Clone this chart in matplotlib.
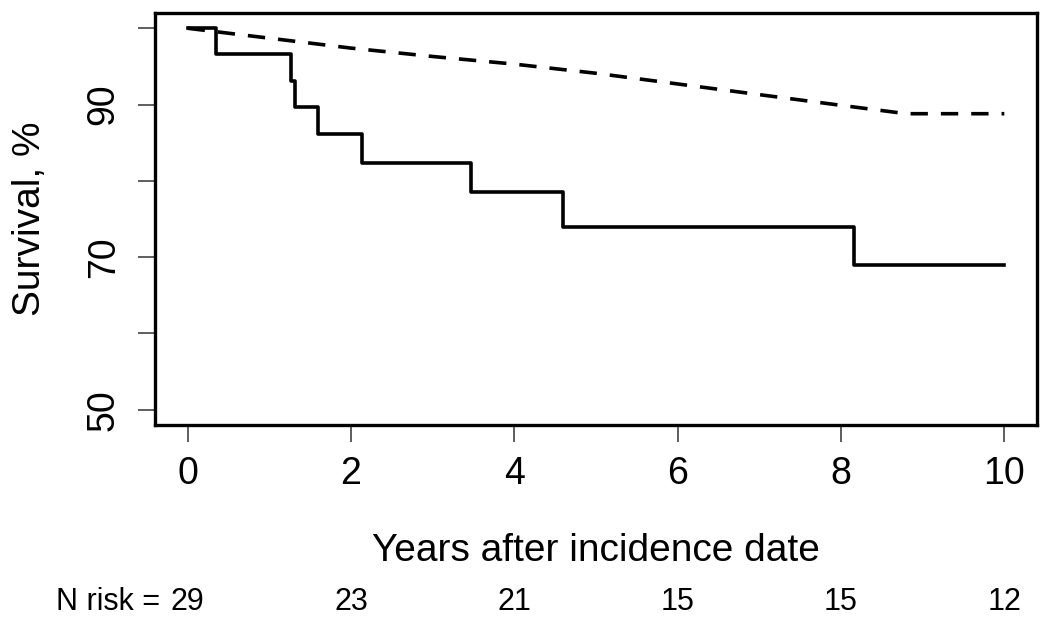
import matplotlib
matplotlib.use("Agg")
import matplotlib.pyplot as plt
import matplotlib.transforms as mtransforms

plt.rcParams['font.family'] = ['Liberation Sans', 'DejaVu Sans']

# observed survival (Kaplan-Meier steps)
km_time = [0, 0.35, 1.27, 1.31, 1.59, 2.13, 3.47, 4.60, 8.16, 10]
km_surv = [100, 96.6, 93.1, 89.7, 86.2, 82.4, 78.5, 73.9, 69.0, 69.0]

# expected survival (dashed)
exp_time = [0, 1, 2, 3, 4, 5, 6, 7, 8, 8.8, 10]
exp_surv = [100, 98.7, 97.4, 96.3, 95.3, 94.1, 92.7, 91.3, 89.9, 88.8, 88.8]

x_ticks = [0, 2, 4, 6, 8, 10]
y_ticks = [50, 60, 70, 80, 90, 100]
y_tick_labels = ['50', '', '70', '', '90', '']
n_risk = [29, 23, 21, 15, 15, 12]

fig = plt.figure(figsize=(10.5, 6.24), dpi=100)
ax = fig.add_axes([155 / 1050, 1 - 425 / 624, (1037 - 155) / 1050, (425 - 13) / 624])

ax.step(km_time, km_surv, where='post', color='black', lw=2.6)
ax.plot(exp_time, exp_surv, color='black', lw=2.6, dashes=(4.8, 3.6), dash_capstyle='butt')

ax.set_xlim(-0.4, 10.4)
ax.set_ylim(48, 102)
ax.set_xticks(x_ticks)
ax.set_xticklabels([str(t) for t in x_ticks], fontsize=27)
ax.set_yticks(y_ticks)
ax.set_yticklabels(y_tick_labels, fontsize=27, rotation=90, va='center')

for s in ax.spines.values():
    s.set_linewidth(2.4)
ax.tick_params(axis='both', length=12, width=1.1, color='#333333')
ax.tick_params(axis='x', pad=10)
ax.tick_params(axis='y', pad=12)

ax.set_xlabel('Years after incidence date', fontsize=28, labelpad=30)
ax.set_ylabel('Survival, %', fontsize=28, labelpad=27)

# numbers at risk row below the plot
trans = mtransforms.blended_transform_factory(ax.transData, fig.transFigure)
ax.text(-0.34, 0.035, 'N risk =', transform=trans, ha='right', va='center', fontsize=22)
for t, n in zip(x_ticks, n_risk):
    ax.text(t, 0.035, str(n), transform=trans, ha='center', va='center', fontsize=22)

fig.savefig('out.png', dpi=100)
